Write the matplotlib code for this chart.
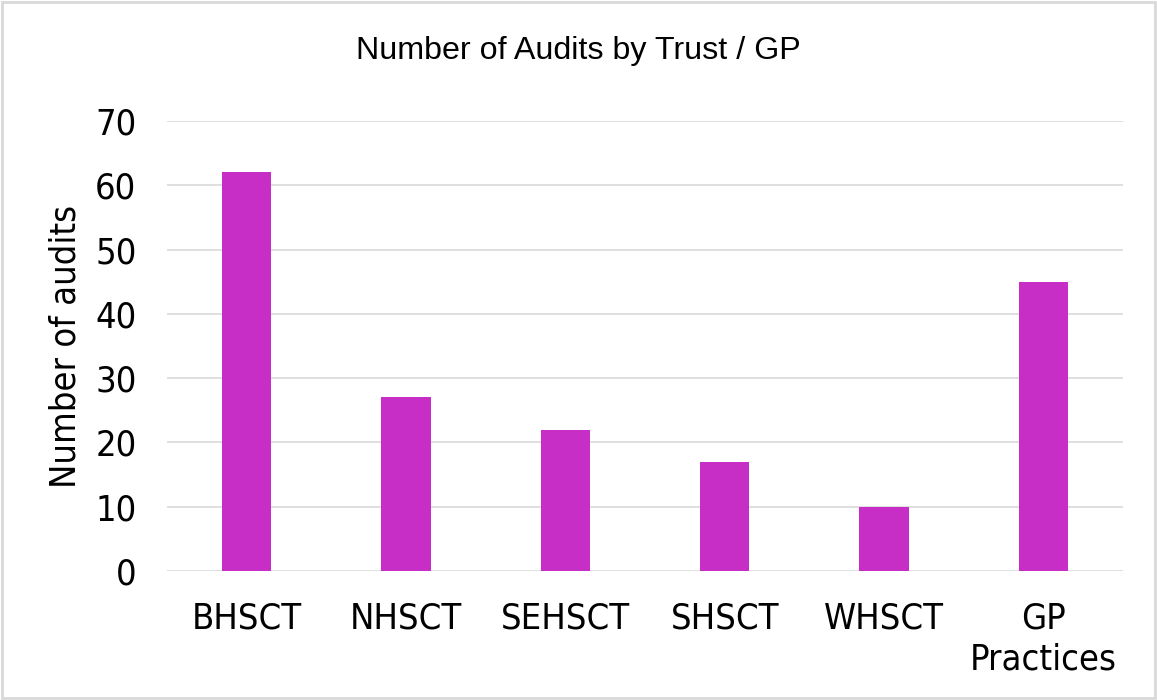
import matplotlib
matplotlib.use("Agg")
import matplotlib.pyplot as plt
from matplotlib.patches import Rectangle

categories = ["BHSCT", "NHSCT", "SEHSCT", "SHSCT", "WHSCT", "GP\nPractices"]
audits = [62, 27, 22, 17, 10, 45]
yticks = [0, 10, 20, 30, 40, 50, 60, 70]

fig = plt.figure(figsize=(11.57, 7), dpi=100)
ax = fig.add_axes([167 / 1157, 1 - 571 / 700, (1123 - 167) / 1157, (571 - 121) / 700])

x = list(range(len(categories)))
ax.bar(x, audits, width=0.31, color="#C62EC6", zorder=3)

ax.set_xlim(-0.5, 5.5)
ax.set_ylim(0, 70)
ax.set_yticks(yticks)
ax.set_xticks(x)
ax.set_xticklabels(categories, fontsize=26, fontstretch="condensed", linespacing=1.25)
for lbl in ax.get_yticklabels():
    lbl.set_fontsize(26)
    lbl.set_fontstretch("condensed")
ax.tick_params(axis="both", length=0, colors="#000000")
ax.tick_params(axis="y", pad=22)
ax.tick_params(axis="x", pad=22)
ax.grid(axis="y", color="#d9d9d9", linewidth=1.2, zorder=0)
for s in ax.spines.values():
    s.set_visible(False)

ax.set_ylabel("Number of audits", fontsize=26, fontstretch="condensed")
ax.yaxis.set_label_coords(-0.088, 0.5)
fig.text(0.5, 1 - 51 / 700, "Number of Audits by Trust / GP", ha="center", va="center",
         fontsize=23.2, family="Liberation Sans")

fig.patches.append(Rectangle((2 / 1157, 2 / 700), 1 - 4 / 1157, 1 - 4 / 700,
                             transform=fig.transFigure, fill=False,
                             edgecolor="#d9d9d9", linewidth=2))

fig.savefig("out.png", dpi=100)
